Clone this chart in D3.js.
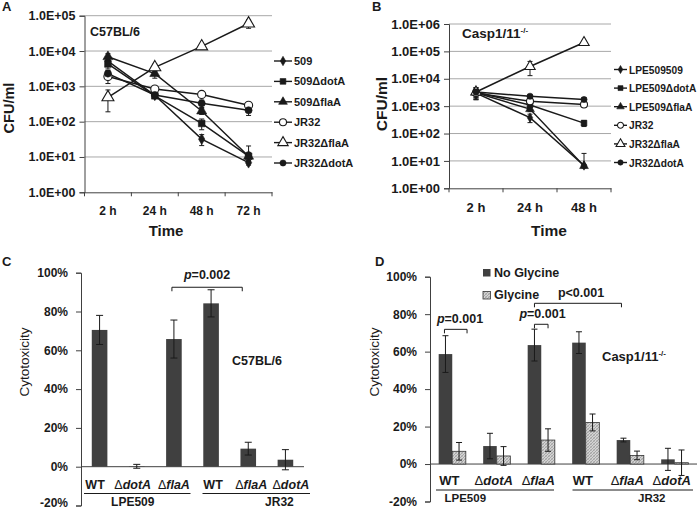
<!DOCTYPE html>
<html><head><meta charset="utf-8">
<script src="https://cdn.jsdelivr.net/npm/d3@7"></script>
<style>body{margin:0;background:#fff} svg text{font-family:'Liberation Sans',Arial,sans-serif}</style>
</head><body><svg id="c" width="700" height="511"></svg>
<script>
// ---------------- DATA ----------------
// Panel A (C57BL/6)
const timesA = ["2 h","24 h","48 h","72 h"];
const strainsA = ["509","509ΔdotA","509ΔflaA","JR32","JR32ΔflaA","JR32ΔdotA"];
const tickValsA = [1,10,100,1000,10000,100000];
const tickLabelsA = ["1.0E+00","1.0E+01","1.0E+02","1.0E+03","1.0E+04","1.0E+05"];
const a509      = [5200, 560, 32, 6.9];
const a509Err   = [1500, 60, 11, 1];
const a509Dot   = [4300, 540, 89, 10.5];
const a509DotErr= [1200, 60, 30, 10];
const a509Fla   = [6900, 2300, 200, 10.5];
const a509FlaErr= [1500, 600, 40, 3];
const aJR32     = [1900, 840, 590, 290];
const aJR32Err  = [700, 100, 80, 50];
const aJR32Fla  = [490, 3450, 13500, 60000];
const aJR32FlaErr=[300, 800, 2000, 16000];
const aJR32Dot  = [2300, 570, 330, 210];
const aJR32DotErr=[500, 60, 80, 60];

// Panel B (Casp1/11-/-)
const timesB = ["2 h","24 h","48 h"];
const strainsB = ["LPE509509","LPE509ΔdotA","LPE509ΔflaA","JR32","JR32ΔflaA","JR32ΔdotA"];
const tickValsB = [1,10,100,1000,10000,100000,1000000];
const tickLabelsB = ["1.0E+00","1.0E+01","1.0E+02","1.0E+03","1.0E+04","1.0E+05","1.0E+06"];
const b509      = [3000, 380, 6.8];
const b509Err   = [1200, 130, 12];
const b509Dot   = [3200, 1100, 240];
const b509DotErr= [1500, 200, 60];
const b509Fla   = [3100, 780, 6.5];
const b509FlaErr= [1000, 150, 1];
const bJR32     = [3000, 1500, 1150];
const bJR32Err  = [1000, 300, 200];
const bJR32Fla  = [3300, 28000, 210000];
const bJR32FlaErr=[1500, 15000, 30000];
const bJR32Dot  = [3300, 2300, 1750];
const bJR32DotErr=[1000, 300, 300];

// Panel C (C57BL/6 cytotoxicity)
const catMutC = ["WT","dotA","flaA","WT","flaA","dotA"];
const groupsC = ["LPE509","JR32"];
const cytoC    = [70.5, 0.2, 65.8, 84.2, 9.3, 3.6];
const cytoCErr = [7.5, 1.0, 9.8, 7.0, 3.3, 5.2];
const pTextC = "0.002";
const ticksPct = [-20,0,20,40,60,80,100];

// Panel D (Casp1/11-/- cytotoxicity)
const catMutD = ["WT","dotA","flaA","WT","flaA","dotA"];
const groupsD = ["LPE509","JR32"];
const seriesD = ["No Glycine","Glycine"];
const noGly    = [58.7, 9.6, 63.5, 64.8, 12.8, 2.5];
const noGlyErr = [9.8, 6.8, 8.5, 5.8, 1.0, 5.9];
const gly      = [6.8, 4.3, 12.8, 22.2, 4.6, 0.7];
const glyErr   = [4.7, 5.0, 6.0, 4.5, 2.3, 6.8];

// ---------------- DRAWING ----------------
const svg = d3.select("#c");
svg.append("rect").attr("width",700).attr("height",511).attr("fill","#fff");
const defs = svg.append("defs");
const pat = defs.append("pattern").attr("id","hatch").attr("patternUnits","userSpaceOnUse")
  .attr("width",3).attr("height",3);
pat.append("rect").attr("width",3).attr("height",3).attr("fill","#d4d4d4");
pat.append("path").attr("d","M0,3 L3,0 M-1,1 L1,-1 M2,4 L4,2").attr("stroke","#909090").attr("stroke-width",0.7);
pat.append("path").attr("d","M0,0 L3,3").attr("stroke","#a8a8a8").attr("stroke-width",0.5);

const INK = "#1a1a1a";
const AX = "#404040";

function label(x,y,s,size,weight="bold",anchor="start"){
  return svg.append("text").attr("x",x).attr("y",y).attr("font-size",size)
    .attr("font-weight",weight).attr("text-anchor",anchor).attr("fill",INK).text(s);
}

function marker(g, kind, x, y, sc){
  const sym = {diamond:d3.symbolDiamond, square:d3.symbolSquare, triangle:d3.symbolTriangle,
    circle:d3.symbolCircle, ocircle:d3.symbolCircle, otriangle:d3.symbolTriangle}[kind];
  const size = {diamond:34, square:44, triangle:44, circle:40, ocircle:52, otriangle:62}[kind]*sc;
  const open = kind[0]==="o";
  g.append("path").attr("d", d3.symbol().type(sym).size(size)())
    .attr("transform",`translate(${x},${y})`)
    .attr("fill", open ? "#fff" : INK).attr("stroke", INK).attr("stroke-width", open?1.1:0.6);
}

function logPanel(o){
  const g = svg.append("g");
  const x = d3.scaleBand().domain(o.times).range(o.xr);
  const y = d3.scaleLog().domain([o.ticks[0], o.ticks[o.ticks.length-1]]).range(o.yr);
  const cx = t => x(t) + x.bandwidth()/2;
  g.selectAll(".gr").data(o.ticks.slice(1)).join("line")
    .attr("x1",o.xr[0]).attr("x2",o.xr[1]).attr("y1",d=>y(d)).attr("y2",d=>y(d))
    .attr("stroke","#a8a8a8").attr("stroke-width",1);
  const ya = g.append("g").attr("transform",`translate(${o.xr[0]},0)`)
    .call(d3.axisLeft(y).tickValues(o.ticks).tickFormat((d,i)=>o.tickLabels[i]).tickSize(5).tickPadding(4));
  ya.select(".domain").attr("stroke",AX);
  ya.selectAll(".tick line").attr("stroke",AX);
  ya.selectAll(".tick text").attr("font-size",o.tfs).attr("font-weight","bold").attr("fill",INK)
    .attr("font-family","'Liberation Sans',Arial,sans-serif");
  const xa = g.append("g").attr("transform",`translate(0,${o.yr[0]})`)
    .call(d3.axisBottom(x).tickSize(0).tickPadding(o.xpad));
  xa.select(".domain").attr("stroke",AX);
  xa.selectAll(".tick text").attr("font-size",o.xfs).attr("font-weight","bold").attr("fill",INK)
    .attr("font-family","'Liberation Sans',Arial,sans-serif");
  g.selectAll(".bt").data(o.times.concat(["end"])).join("line")
    .attr("x1",(d,i)=>o.xr[0]+i*x.step()).attr("x2",(d,i)=>o.xr[0]+i*x.step())
    .attr("y1",o.yr[0]).attr("y2",o.yr[0]+4).attr("stroke",AX);
  const line = d3.line().x((d,i)=>cx(o.times[i])).y(d=>y(d));
  o.series.forEach(s=>{
    g.append("path").attr("d",line(s.v)).attr("fill","none").attr("stroke",INK).attr("stroke-width",1.5);
  });
  o.series.forEach(s=>{
    s.v.forEach((v,i)=>{
      const e = s.e[i], X = cx(o.times[i]);
      const hi = y(Math.min(v+e, o.ticks[o.ticks.length-1]));
      const lo = (v-e) > o.ticks[0] ? y(v-e) : y(v);
      g.append("line").attr("x1",X).attr("x2",X).attr("y1",hi).attr("y2",lo).attr("stroke",INK).attr("stroke-width",1);
      g.append("line").attr("x1",X-2.5).attr("x2",X+2.5).attr("y1",hi).attr("y2",hi).attr("stroke",INK).attr("stroke-width",1);
      if ((v-e) > o.ticks[0])
        g.append("line").attr("x1",X-2.5).attr("x2",X+2.5).attr("y1",lo).attr("y2",lo).attr("stroke",INK).attr("stroke-width",1);
    });
  });
  o.series.forEach(s=>{
    s.v.forEach((v,i)=> marker(g, s.m, cx(o.times[i]), y(v), o.msc));
  });
  o.series.forEach((s,i)=>{
    const ly = o.leg.y0 + i*o.leg.dy;
    g.append("line").attr("x1",o.leg.x0).attr("x2",o.leg.x1).attr("y1",ly).attr("y2",ly)
      .attr("stroke",INK).attr("stroke-width",1.4);
    marker(g, s.m, (o.leg.x0+o.leg.x1)/2, ly, o.lsc);
    g.append("text").attr("x",o.leg.x1+2).attr("y",ly+4).attr("font-size",o.lfs).attr("font-weight","bold")
      .attr("fill",INK).text(s.name);
  });
  return {x,y};
}

logPanel({
  times:timesA, xr:[84.5,272], yr:[192.3,15.7], ticks:tickValsA, tickLabels:tickLabelsA,
  tfs:12.5, xfs:12, xpad:14, msc:1, lsc:0.75, lfs:11,
  leg:{x0:274,x1:292,y0:61,dy:20.4},
  series:[
    {name:strainsA[0], v:a509, e:a509Err, m:"diamond"},
    {name:strainsA[1], v:a509Dot, e:a509DotErr, m:"square"},
    {name:strainsA[2], v:a509Fla, e:a509FlaErr, m:"triangle"},
    {name:strainsA[3], v:aJR32, e:aJR32Err, m:"ocircle"},
    {name:strainsA[4], v:aJR32Fla, e:aJR32FlaErr, m:"otriangle"},
    {name:strainsA[5], v:aJR32Dot, e:aJR32DotErr, m:"circle"}
  ]
});
logPanel({
  times:timesB, xr:[449,611], yr:[188.3,24], ticks:tickValsB, tickLabels:tickLabelsB,
  tfs:13, xfs:13, xpad:14, msc:0.75, lsc:0.55, lfs:10.2,
  leg:{x0:614,x1:627,y0:69.5,dy:18.6},
  series:[
    {name:strainsB[0], v:b509, e:b509Err, m:"diamond"},
    {name:strainsB[1], v:b509Dot, e:b509DotErr, m:"square"},
    {name:strainsB[2], v:b509Fla, e:b509FlaErr, m:"triangle"},
    {name:strainsB[3], v:bJR32, e:bJR32Err, m:"ocircle"},
    {name:strainsB[4], v:bJR32Fla, e:bJR32FlaErr, m:"otriangle"},
    {name:strainsB[5], v:bJR32Dot, e:bJR32DotErr, m:"circle"}
  ]
});

label(2,11,"A",13); label(372,11,"B",13);
label(90,36,"C57BL/6",12.5);
const cb = label(462,38,"Casp1/11",13.5);
cb.append("tspan").attr("font-size",8).attr("dy",-5).text("-/-");
label(166,236,"Time",15,"bold","middle");
label(549,236,"Time",15.5,"bold","middle");
svg.append("text").attr("transform","translate(14,108) rotate(-90)").attr("text-anchor","middle")
  .attr("font-size",14.5).attr("font-weight","bold").attr("fill",INK).text("CFU/ml");
svg.append("text").attr("transform","translate(387,104) rotate(-90)").attr("text-anchor","middle")
  .attr("font-size",15.5).attr("font-weight","bold").attr("fill",INK).text("CFU/ml");

// ------------ bar panels --------------
function pctAxis(xr, y, fs){
  const g = svg.append("g").attr("transform",`translate(${xr[0]},0)`)
    .call(d3.axisLeft(y).tickValues(ticksPct).tickFormat(d=>d+"%").tickSize(5).tickPadding(8));
  g.select(".domain").attr("stroke",AX);
  g.selectAll(".tick line").attr("stroke",AX);
  g.selectAll(".tick text").attr("font-size",fs).attr("font-weight","bold").attr("fill",INK)
    .attr("font-family","'Liberation Sans',Arial,sans-serif");
  svg.append("line").attr("x1",xr[0]).attr("x2",xr[1]).attr("y1",y(0)).attr("y2",y(0)).attr("stroke",AX);
  return g;
}
function errBar(X,v,e,y,cap){
  svg.append("line").attr("x1",X).attr("x2",X).attr("y1",y(v+e)).attr("y2",y(v-e)).attr("stroke",INK);
  [v+e,v-e].forEach(t=>svg.append("line").attr("x1",X-cap).attr("x2",X+cap).attr("y1",y(t)).attr("y2",y(t)).attr("stroke",INK));
}
function catLabel(X,Y,mut,fs){
  const t = svg.append("text").attr("x",X).attr("y",Y).attr("text-anchor","middle").attr("font-size",fs).attr("fill",INK);
  if (mut==="WT") t.attr("font-weight","bold").text("WT");
  else { t.append("tspan").attr("font-weight","normal").text("Δ");
         t.append("tspan").attr("font-weight","bold").attr("font-style","italic").text(mut); }
}
function bracket(x1,x2,yy,drop){
  svg.append("path").attr("d",`M${x1},${yy+drop}V${yy}H${x2}V${yy+drop}`).attr("fill","none").attr("stroke",INK);
}
function pLabel(X,Y,op,val,italic,fs){
  const t = svg.append("text").attr("x",X).attr("y",Y).attr("text-anchor","middle").attr("font-size",fs)
    .attr("font-weight","bold").attr("fill",INK);
  t.append("tspan").attr("font-style",italic?"italic":"normal").text("p");
  t.append("tspan").text(op+val);
}

// Panel C
{
  const xr=[81,304];
  const x = d3.scaleBand().domain(d3.range(6)).range(xr).paddingInner(0.58).paddingOuter(0.29);
  const y = d3.scaleLinear().domain([-20,100]).range([505.5,272.7]);
  const ax = pctAxis(xr,y,12);
  ax.selectAll(".tick text").filter(d=>d===-20).attr("dy","0.1em");
  cytoC.forEach((v,i)=>{
    svg.append("rect").attr("x",x(i)).attr("width",x.bandwidth()).attr("y",y(Math.max(v,0)))
      .attr("height",Math.abs(y(v)-y(0))).attr("fill","#404040");
  });
  cytoC.forEach((v,i)=> errBar(x(i)+x.bandwidth()/2, v, cytoCErr[i], y, 3.5));
  const offC = [-4.5,-4,0,2,3,5.5];
  catMutC.forEach((m,i)=> catLabel(x(i)+x.bandwidth()/2 + offC[i], 489, m, 12.5));
  const st = x.step();
  svg.append("line").attr("x1",xr[0]+3).attr("x2",xr[0]+3*st-2).attr("y1",493.5).attr("y2",493.5).attr("stroke",INK);
  svg.append("line").attr("x1",xr[0]+3*st+10).attr("x2",xr[1]+6).attr("y1",493.5).attr("y2",493.5).attr("stroke",INK);
  label(x(1)+x.bandwidth()/2-4, 506, groupsC[0], 12, "bold","middle");
  label(x(5)+x.bandwidth()/2-6, 506, groupsC[1], 12, "bold","middle");
  const bx1 = x(2)+x.bandwidth()/2-2, bx2 = x(4)+x.bandwidth()/2-6;
  bracket(bx1,bx2,y(92.5),4);
  pLabel((bx1+bx2)/2, 279, "=", pTextC, true, 12.5);
  label(257,365,"C57BL/6",12.5,"bold","middle");
  label(2,266,"C",13);
  svg.append("text").attr("transform","translate(29,362) rotate(-90)").attr("text-anchor","middle")
    .attr("font-size",13.5).attr("fill",INK).text("Cytotoxicity");
}

// Panel D
{
  const xr=[430,697];
  const x0 = d3.scaleBand().domain(d3.range(6)).range(xr).paddingInner(0.39).paddingOuter(0.195);
  const x1 = d3.scaleBand().domain(seriesD).range([0,x0.bandwidth()]);
  const y = d3.scaleLinear().domain([-20,100]).range([501.5,276.7]);
  pctAxis(xr,y,12);
  const fills = {"No Glycine":"#404040","Glycine":"url(#hatch)"};
  const vals = {"No Glycine":noGly,"Glycine":gly};
  const errs = {"No Glycine":noGlyErr,"Glycine":glyErr};
  seriesD.forEach(s=>{
    vals[s].forEach((v,i)=>{
      svg.append("rect").attr("x",x0(i)+x1(s)).attr("width",x1.bandwidth()).attr("y",y(Math.max(v,0)))
        .attr("height",Math.abs(y(v)-y(0))).attr("fill",fills[s])
        .attr("stroke", s==="Glycine" ? "#333" : "none").attr("stroke-width",0.8);
    });
  });
  seriesD.forEach(s=> vals[s].forEach((v,i)=> errBar(x0(i)+x1(s)+x1.bandwidth()/2, v, errs[s][i], y, 3)));
  catMutD.forEach((m,i)=> catLabel(x0(i)+x0.bandwidth()/2 - 3, 485, m, 13));
  const st = x0.step();
  svg.append("line").attr("x1",xr[0]+6).attr("x2",xr[0]+3*st-9.5).attr("y1",490).attr("y2",490).attr("stroke",INK);
  svg.append("line").attr("x1",xr[0]+3*st+9).attr("x2",xr[1]-4).attr("y1",490).attr("y2",490).attr("stroke",INK);
  label(x0(0)+x0.bandwidth()/2+13, 502, groupsD[0], 11.5, "bold","middle");
  label(x0(5)+x0.bandwidth()/2-23, 502, groupsD[1], 11.5, "bold","middle");
  const c = (i,s)=> x0(i)+x1(s)+x1.bandwidth()/2;
  bracket(c(0,"No Glycine")-1, c(0,"Glycine")+8, y(71.9), 4);
  pLabel(460, 322.7, "=", "0.001", true, 12.5);
  bracket(c(2,"No Glycine"), c(2,"Glycine"), y(74.6), 4);
  pLabel(542.5, 318.3, "=", "0.001", true, 12.5);
  bracket(c(2,"No Glycine"), c(4,"No Glycine")-2, y(85.8), 4);
  pLabel(581, 296.7, "<", "0.001", false, 12.5);
  seriesD.forEach((s,i)=>{
    const ly = 269 + i*22.5;
    svg.append("rect").attr("x",483).attr("y",ly).attr("width",7.5).attr("height",7.5)
      .attr("fill",fills[s]).attr("stroke", s==="Glycine"?"#333":"none").attr("stroke-width",0.8);
    label(494, ly+7.8, s, 12.5);
  });
  const cd = label(602,361,"Casp1/11",13);
  cd.append("tspan").attr("font-size",8).attr("dy",-5).text("-/-");
  label(375,266,"D",13);
  svg.append("text").attr("transform","translate(379,362) rotate(-90)").attr("text-anchor","middle")
    .attr("font-size",13.5).attr("fill",INK).text("Cytotoxicity");
}
</script></body></html>
